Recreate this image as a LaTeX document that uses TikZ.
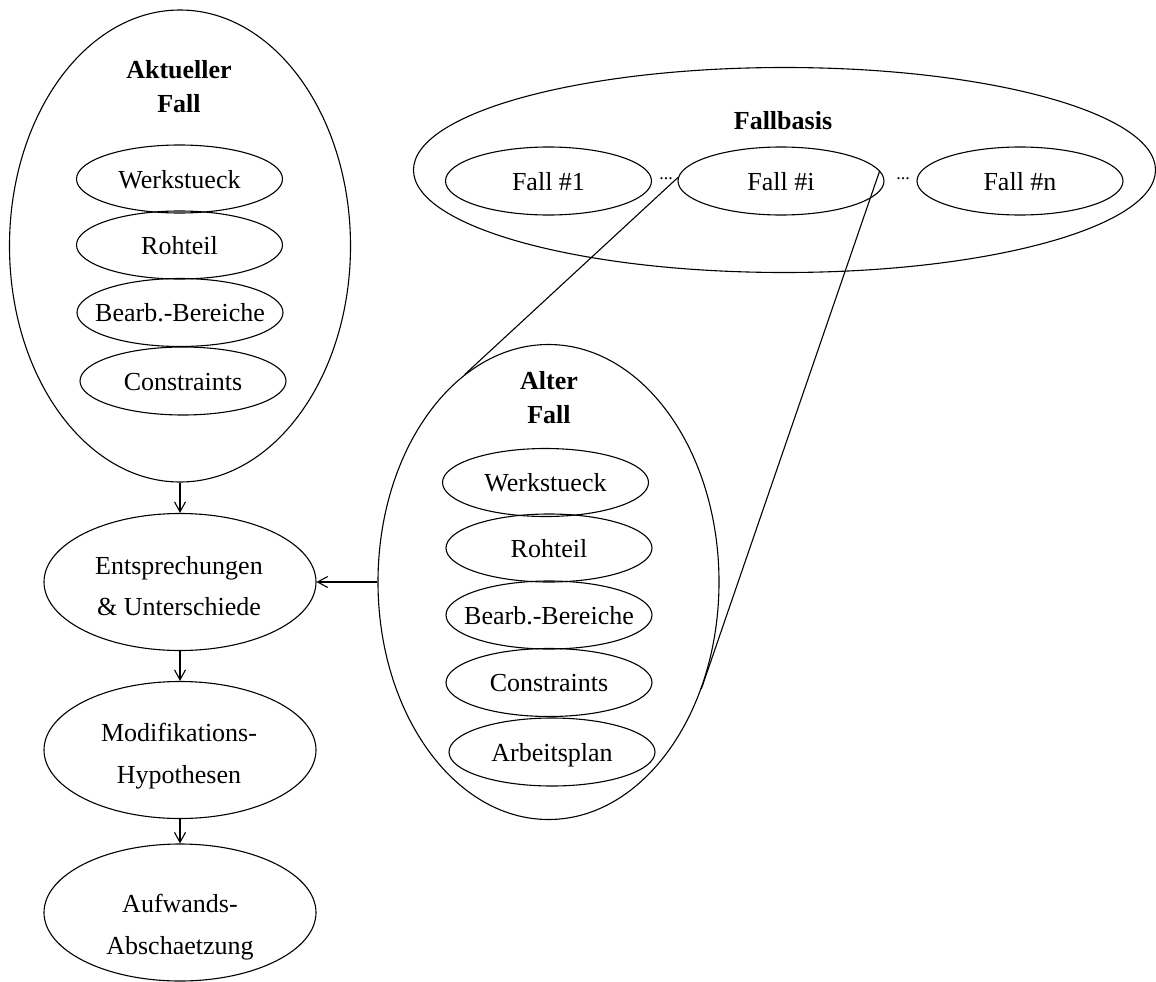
\documentclass[tikz,border=0pt]{standalone}
\usepackage{fontspec}
\setmainfont{Liberation Serif}
\usetikzlibrary{shapes.geometric,arrows.meta}
% centred text that does not widen the surrounding ellipse
\newcommand\lbl[1]{\makebox[0pt]{#1}}
\begin{document}
\begin{tikzpicture}[x=1pt,y=-1pt,
  lw/.style={line width=1.1pt},
  oval/.style={draw, ellipse, lw, inner sep=0pt},
  part/.style={oval, minimum width=206pt, minimum height=68pt,
               font=\fontsize{26}{40}\selectfont, text height=18pt, text depth=0pt},
  flowbox/.style={oval, minimum width=272pt, minimum height=137pt},
  flowtext/.style={font=\fontsize{26}{41.5}\selectfont, align=center, inner sep=0pt, anchor=north},
  caption/.style={font=\fontsize{26}{34}\selectfont\bfseries, align=center, inner sep=0pt, anchor=north},
  dots/.style={font=\fontsize{18}{20}\selectfont, inner sep=0pt, anchor=base},
  link/.style={lw, -{Straight Barb[length=10pt,width=11pt]}},
  cone/.style={lw}
]
\useasboundingbox (0,0) rectangle (1156,982);

% current case with its parts
\node[oval, minimum width=341pt, minimum height=472pt] (cur) at (180,246) {};
\node[caption] (curtitle) at (179,60) {Aktueller\\Fall};
\node[part] (cw) at (179.5,179) {\lbl{Werkstueck}};
\node[part] (cr) at (179.5,245) {\lbl{Rohteil}};
\node[part] (cb) at (180,312.5) {\lbl{Bearb.-Bereiche}};
\node[part] (cc) at (183,381) {\lbl{Constraints}};

% processing chain
\node[flowbox] (ent) at (180,582) {};
\node[flowtext] (enttext) at (179,556) {Entsprechungen\\\& Unterschiede};
\node[flowbox] (mod) at (180,750) {};
\node[flowtext] (modtext) at (179,723) {Modifikations-\\Hypothesen};
\node[flowbox] (auf) at (180,912.5) {};
\node[flowtext] (auftext) at (180,894) {Aufwands-\\Abschaetzung};

% case base
\node[oval, minimum width=742pt, minimum height=205pt] (base) at (784.5,170) {};
\node[caption] (basetitle) at (783,111) {Fallbasis};
\node[part] (f1) at (548.5,181) {\lbl{Fall \#1}};
\node[part] (fi) at (781,181) {\lbl{Fall \#i}};
\node[part] (fn) at (1020,181) {\lbl{Fall \#n}};
\node[dots] (d1) at (666,179) {...};
\node[dots] (d2) at (903,179) {...};

% old case with its parts
\node[oval, minimum width=341pt, minimum height=475pt] (old) at (548.5,582) {};
\node[caption] (oldtitle) at (549,371) {Alter\\Fall};
\node[part] (ow) at (545.5,482.5) {\lbl{Werkstueck}};
\node[part] (or) at (549,548) {\lbl{Rohteil}};
\node[part] (ob) at (549,615) {\lbl{Bearb.-Bereiche}};
\node[part] (oc) at (549,682.5) {\lbl{Constraints}};
\node[part] (oa) at (552,752) {\lbl{Arbeitsplan}};

% connectors
\draw[link] (cur.south) -- (ent.north);
\draw[link] (ent.south) -- (mod.north);
\draw[link] (mod.south) -- (auf.north);
\draw[link] (old.west) -- (ent.east);
\draw[cone] (fi.178) -- (old.112);
\draw[cone] (fi.6) -- (old.-35);
\end{tikzpicture}
\end{document}
